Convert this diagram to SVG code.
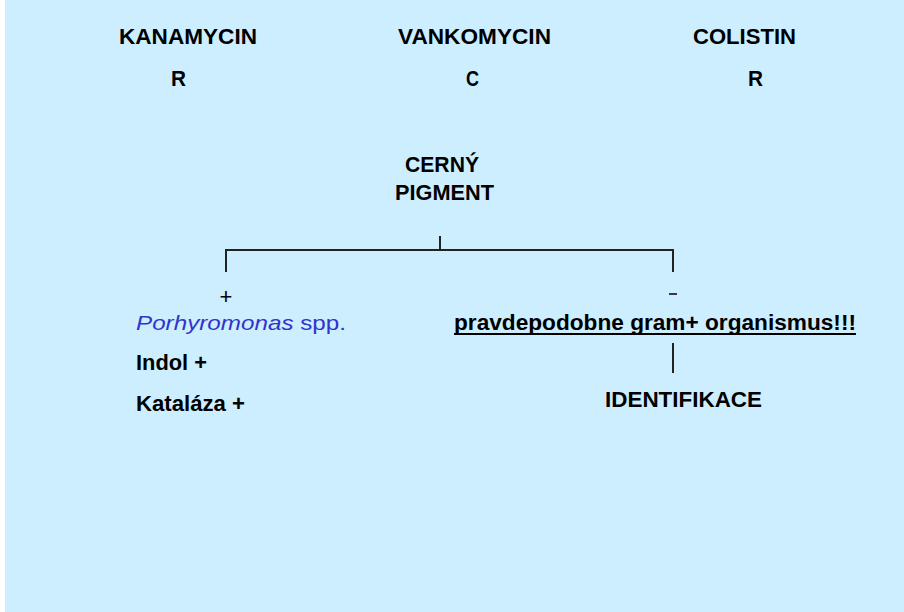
<svg xmlns="http://www.w3.org/2000/svg" width="904" height="612" viewBox="0 0 904 612">
  <style>
    .t { font-family: "Liberation Sans", Arial, sans-serif; font-weight: bold; font-size: 22px; fill: #000; }
    .sp { font-weight: normal; font-size: 21px; fill: #3333cc; font-family: "Liberation Sans", Arial, sans-serif; }
    .sg { font-family: "Liberation Sans", Arial, sans-serif; font-size: 22px; fill: #000; text-anchor: middle; }
    .ln { stroke: #222; stroke-width: 2; fill: none; }
  </style>
  <rect x="0" y="0" width="904" height="612" fill="#ffffff"/>
  <rect x="5" y="0" width="899" height="612" fill="#cceeff"/>

  <g id="antibiotics">
    <text class="t" x="119" y="44" textLength="138" lengthAdjust="spacingAndGlyphs">KANAMYCIN</text>
    <text class="t" x="398" y="44" textLength="153" lengthAdjust="spacingAndGlyphs">VANKOMYCIN</text>
    <text class="t" x="693" y="44" textLength="103" lengthAdjust="spacingAndGlyphs">COLISTIN</text>
    <text class="t" x="171" y="86" textLength="15" lengthAdjust="spacingAndGlyphs">R</text>
    <text class="t" x="466" y="86" textLength="13" lengthAdjust="spacingAndGlyphs">C</text>
    <text class="t" x="748" y="86" textLength="15" lengthAdjust="spacingAndGlyphs">R</text>
  </g>

  <g id="pigment">
    <text class="t" x="405" y="172" textLength="74" lengthAdjust="spacingAndGlyphs">CERNÝ</text>
    <text class="t" x="395" y="200" textLength="99" lengthAdjust="spacingAndGlyphs">PIGMENT</text>
  </g>

  <g id="connectors">
    <path class="ln" d="M440 236 V250 M226 250 H673 M226 249 V272 M673 249 V272"/>
    <path class="ln" d="M673 343 V373"/>
  </g>

  <g id="positive">
    <text class="sg" x="226" y="304">+</text>
    <text x="136" y="330" class="sp" textLength="210" lengthAdjust="spacingAndGlyphs"><tspan font-style="italic">Porhyromonas</tspan> spp.</text>
    <text class="t" x="136" y="370" textLength="71" lengthAdjust="spacingAndGlyphs">Indol +</text>
    <text class="t" x="136" y="411" textLength="109" lengthAdjust="spacingAndGlyphs">Kataláza +</text>
  </g>

  <g id="negative">
    <line x1="669" y1="294" x2="677" y2="294" stroke="#000" stroke-width="1.5"/>
    <text class="t" x="454" y="330" textLength="402" lengthAdjust="spacingAndGlyphs">pravdepodobne gram+ organismus!!!</text>
    <line x1="454" y1="334" x2="856" y2="334" stroke="#000" stroke-width="2"/>
    <text class="t" x="605" y="407" textLength="157" lengthAdjust="spacingAndGlyphs">IDENTIFIKACE</text>
  </g>
</svg>
